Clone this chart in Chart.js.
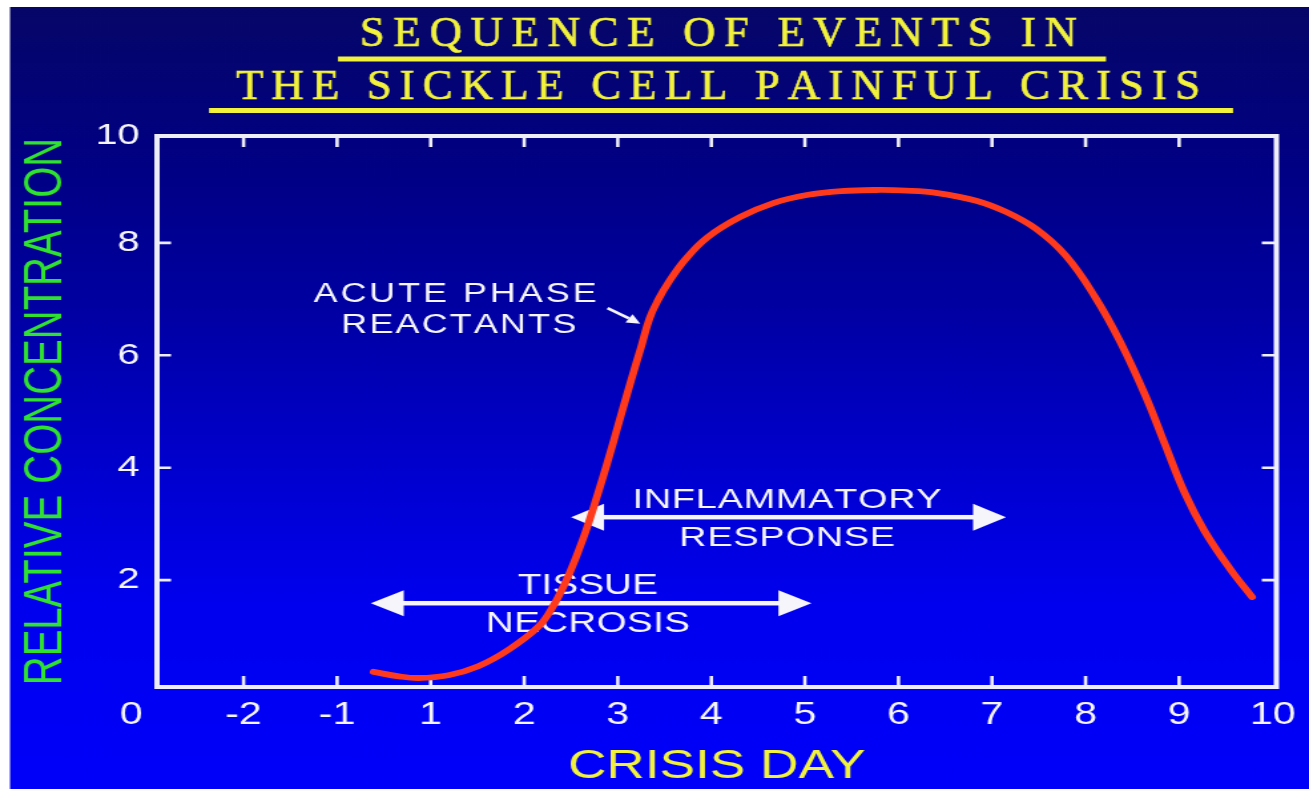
<!DOCTYPE html>
<html>
<head>
<meta charset="utf-8">
<title>Sickle cell painful crisis</title>
<script src="https://cdn.jsdelivr.net/npm/chart.js@4.4.1/dist/chart.umd.min.js"></script>
<style>
  html, body { margin: 0; padding: 0; background: #fff; overflow: hidden; }
  #chart { display: block; }
</style>
</head>
<body>
<!-- drawn at slide width, then stretched out to the window -->
<canvas id="chart" width="984" height="789" style="width:1309px;height:789px"></canvas>
<script>
const STRETCH = 1309 / 984;

// concentration curve: x is the slot along the day axis, y the relative concentration
const curveSlot = [2.39, 2.66, 2.87, 3.19, 3.51, 3.83, 4.15, 4.31, 4.47, 4.63, 4.75, 4.89, 5.02, 5.14, 5.25,
                   5.34, 5.43, 5.54, 5.72, 5.96, 6.31, 6.67, 7.02, 7.39, 7.76, 8.08, 8.40, 8.83, 9.15, 9.47,
                   9.79, 10.10, 10.37, 10.64, 10.85, 11.06, 11.27, 11.54, 11.78];
const curveValue = [0.37, 0.29, 0.26, 0.31, 0.47, 0.76, 1.17, 1.54, 2.07, 2.74, 3.34, 4.10, 4.85, 5.54, 6.15,
                    6.66, 6.98, 7.29, 7.70, 8.10, 8.46, 8.71, 8.85, 8.92, 8.94, 8.93, 8.89, 8.75, 8.55, 8.25,
                    7.77, 7.04, 6.24, 5.28, 4.41, 3.55, 2.88, 2.21, 1.70];

// axis ticks
const xTickSlot = [-0.2, 1, 2, 3, 4, 5, 6, 7, 8, 9, 10, 11, 12];
const xTickLabels = ['0', '-2', '-1', '1', '2', '3', '4', '5', '6', '7', '8', '9', '10'];
const yTickValue = [2, 4, 6, 8, 9.9];
const yTickLabels = ['2', '4', '6', '8', '10'];

// phases marked with double arrows: [from slot, to slot], level
const tissueSpan = [2.36, 7.07];
const tissueLevel = 1.59;
const inflammatorySpan = [4.50, 9.15];
const inflammatoryLevel = 3.12;

const X_MIN = 0.075, X_MAX = 12.04;
const Y_MIN = 0.1, Y_MAX = 9.9;

const SANS = '"Liberation Sans", Arial, Helvetica, sans-serif';
const SERIF = '"Liberation Serif", "Times New Roman", serif';
const WHITE = '#f5f5fb';
const YELLOW = '#f2f23c';

// text laid out letter by letter so it fills a given width
function spacedText(ctx, text, cx, baseline, font, width, squeeze, weight) {
    ctx.font = font;
    const chars = [...text];
    const widths = chars.map(ch => ctx.measureText(ch).width * squeeze);
    const total = widths.reduce((s, w) => s + w, 0);
    const gap = chars.length > 1 ? (width - total) / (chars.length - 1) : 0;
    let x = cx - width / 2;
    ctx.textAlign = 'left';
    ctx.textBaseline = 'alphabetic';
    chars.forEach((ch, i) => {
        ctx.save();
        ctx.translate(x, baseline);
        ctx.scale(squeeze, 1);
        ctx.fillText(ch, 0, 0);
        if (weight) {
            ctx.lineWidth = weight;
            ctx.strokeText(ch, 0, 0);
        }
        ctx.restore();
        x += widths[i] + gap;
    });
}

function doubleArrow(ctx, x1, x2, y, head, half, thick) {
    ctx.fillRect(x1 + head * 0.8, y - thick / 2, x2 - x1 - head * 1.6, thick);
    ctx.beginPath();
    ctx.moveTo(x1, y);
    ctx.lineTo(x1 + head, y - half);
    ctx.lineTo(x1 + head, y + half);
    ctx.closePath();
    ctx.moveTo(x2, y);
    ctx.lineTo(x2 - head, y - half);
    ctx.lineTo(x2 - head, y + half);
    ctx.closePath();
    ctx.fill();
}

const slideBackground = {
    id: 'slideBackground',
    beforeDraw(chart) {
        const {ctx, width, height} = chart;
        ctx.save();
        ctx.fillStyle = '#ffffff';
        ctx.fillRect(0, 0, width, height);
        const g = ctx.createLinearGradient(0, 7, 0, height);
        g.addColorStop(0, 'rgb(6,6,104)');
        g.addColorStop(0.22, 'rgb(0,0,134)');
        g.addColorStop(0.375, 'rgb(0,0,160)');
        g.addColorStop(0.567, 'rgb(0,0,202)');
        g.addColorStop(0.76, 'rgb(0,0,238)');
        g.addColorStop(1, 'rgb(0,0,250)');
        ctx.fillStyle = g;
        ctx.fillRect(10 / STRETCH, 7, width, height);
        ctx.restore();
    }
};

const slideTitle = {
    id: 'slideTitle',
    beforeDraw(chart) {
        const ctx = chart.ctx;
        ctx.save();
        ctx.fillStyle = YELLOW;
        ctx.strokeStyle = YELLOW;
        spacedText(ctx, 'SEQUENCE OF EVENTS IN', 718.5 / STRETCH, 45.5, '42px ' + SERIF, 717 / STRETCH, 0.8, 0.7);
        spacedText(ctx, 'THE SICKLE CELL PAINFUL CRISIS', 718 / STRETCH, 98.5, '42px ' + SERIF, 964 / STRETCH, 0.8, 0.7);
        ctx.fillRect(338 / STRETCH, 56.5, 768 / STRETCH, 5);
        ctx.fillRect(209 / STRETCH, 108, 1024 / STRETCH, 5);
        ctx.restore();
    }
};

// box round the plot with short inward tick marks on all four sides
const frameAndTicks = {
    id: 'frameAndTicks',
    beforeDatasetsDraw(chart) {
        const {ctx, chartArea: a, scales: {x, y}} = chart;
        ctx.save();
        ctx.strokeStyle = '#eeeef8';
        ctx.lineWidth = 4;
        ctx.strokeRect(a.left, a.top, a.right - a.left, a.bottom - a.top);
        ctx.lineWidth = 2.6;
        ctx.beginPath();
        x.ticks.forEach(t => {
            const px = x.getPixelForValue(t.value);
            if (px < a.left + 8 || px > a.right - 8) return;
            ctx.moveTo(px, a.bottom);
            ctx.lineTo(px, a.bottom - 11);
            ctx.moveTo(px, a.top);
            ctx.lineTo(px, a.top + 11);
        });
        y.ticks.forEach(t => {
            const py = y.getPixelForValue(t.value);
            if (py < a.top + 8 || py > a.bottom - 8) return;
            ctx.moveTo(a.left, py);
            ctx.lineTo(a.left + 10.5, py);
            ctx.moveTo(a.right, py);
            ctx.lineTo(a.right - 11, py);
        });
        ctx.stroke();
        ctx.restore();
    }
};

// phase labels, placed in chart units
const notes = [
    {text: 'ACUTE PHASE', slot: 3.26, value: 6.94, size: 27, width: 283},
    {text: 'REACTANTS', slot: 3.30, value: 6.40, size: 27, width: 235},
    {text: 'TISSUE', slot: 4.68, value: 1.75, size: 29, width: 140},
    {text: 'NECROSIS', slot: 4.68, value: 1.08, size: 29, width: 204},
    {text: 'INFLAMMATORY', slot: 6.81, value: 3.28, size: 28.5, width: 309},
    {text: 'RESPONSE', slot: 6.81, value: 2.61, size: 28.5, width: 216}
];

const phaseNotes = {
    id: 'phaseNotes',
    beforeDatasetsDraw(chart) {
        const {ctx, scales: {x, y}} = chart;
        ctx.save();
        ctx.fillStyle = WHITE;
        ctx.strokeStyle = WHITE;
        notes.forEach(n => {
            spacedText(ctx, n.text, x.getPixelForValue(n.slot), y.getPixelForValue(n.value),
                n.size + 'px ' + SANS, n.width / STRETCH, 1, 0);
        });
        const head = 33 / STRETCH;
        doubleArrow(ctx, x.getPixelForValue(tissueSpan[0]), x.getPixelForValue(tissueSpan[1]),
            y.getPixelForValue(tissueLevel), head, 13, 4.5);
        doubleArrow(ctx, x.getPixelForValue(inflammatorySpan[0]), x.getPixelForValue(inflammatorySpan[1]),
            y.getPixelForValue(inflammatoryLevel), head, 13.5, 4.5);

        // small pointer to the rising limb
        const x1 = x.getPixelForValue(4.89), y1 = y.getPixelForValue(6.84);
        const x2 = x.getPixelForValue(5.24), y2 = y.getPixelForValue(6.56);
        const ang = Math.atan2(y2 - y1, x2 - x1);
        const hl = 10, hw = 5;
        const bx = x2 - hl * Math.cos(ang), by = y2 - hl * Math.sin(ang);
        ctx.lineWidth = 2.6;
        ctx.beginPath();
        ctx.moveTo(x1, y1);
        ctx.lineTo(bx, by);
        ctx.stroke();
        ctx.beginPath();
        ctx.moveTo(x2, y2);
        ctx.lineTo(bx + hw * Math.sin(ang), by - hw * Math.cos(ang));
        ctx.lineTo(bx - hw * Math.sin(ang), by + hw * Math.cos(ang));
        ctx.closePath();
        ctx.fill();
        ctx.restore();
    }
};

new Chart(document.getElementById('chart'), {
    type: 'line',
    data: {
        datasets: [{
            data: curveSlot.map((s, i) => ({x: s, y: curveValue[i]})),
            borderColor: '#ff3a1c',
            borderWidth: 5.8,
            borderCapStyle: 'round',
            borderJoinStyle: 'round',
            tension: 0.4,
            pointRadius: 0,
            fill: false
        }]
    },
    options: {
        responsive: false,
        animation: false,
        devicePixelRatio: 1,
        events: [],
        layout: {padding: {left: 10 / STRETCH, top: 136, right: 984 - 1282 / STRETCH, bottom: 0}},
        plugins: {
            legend: {display: false},
            title: {display: false},
            tooltip: {enabled: false}
        },
        scales: {
            x: {
                type: 'linear',
                min: X_MIN,
                max: X_MAX,
                grid: {display: false, drawTicks: false},
                border: {display: false},
                afterBuildTicks: s => { s.ticks = xTickSlot.map(v => ({value: v})); },
                afterFit: s => { s.height = 789 - 687; },
                ticks: {
                    autoSkip: false,
                    maxRotation: 0,
                    padding: 10,
                    color: WHITE,
                    font: {family: SANS, size: 31},
                    callback: (v, i) => xTickLabels[i]
                },
                title: {
                    display: true,
                    text: 'CRISIS DAY',
                    color: YELLOW,
                    font: {family: SANS, size: 40, lineHeight: 1},
                    padding: {top: 0, bottom: 2}
                }
            },
            y: {
                type: 'linear',
                min: Y_MIN,
                max: Y_MAX,
                grid: {display: false, drawTicks: false},
                border: {display: false},
                afterBuildTicks: s => { s.ticks = yTickValue.map(v => ({value: v})); },
                afterFit: s => { s.width = (157 - 10) / STRETCH; },
                ticks: {
                    autoSkip: false,
                    padding: 13,
                    color: WHITE,
                    font: {family: SANS, size: 30},
                    callback: (v, i) => yTickLabels[i]
                },
                title: {
                    display: true,
                    text: 'RELATIVE CONCENTRATION',
                    color: '#2fe22f',
                    font: {family: SANS, size: 40, lineHeight: 1.2},
                    padding: {top: 3, bottom: 0}
                }
            }
        }
    },
    plugins: [slideBackground, slideTitle, frameAndTicks, phaseNotes]
});
</script>
</body>
</html>
